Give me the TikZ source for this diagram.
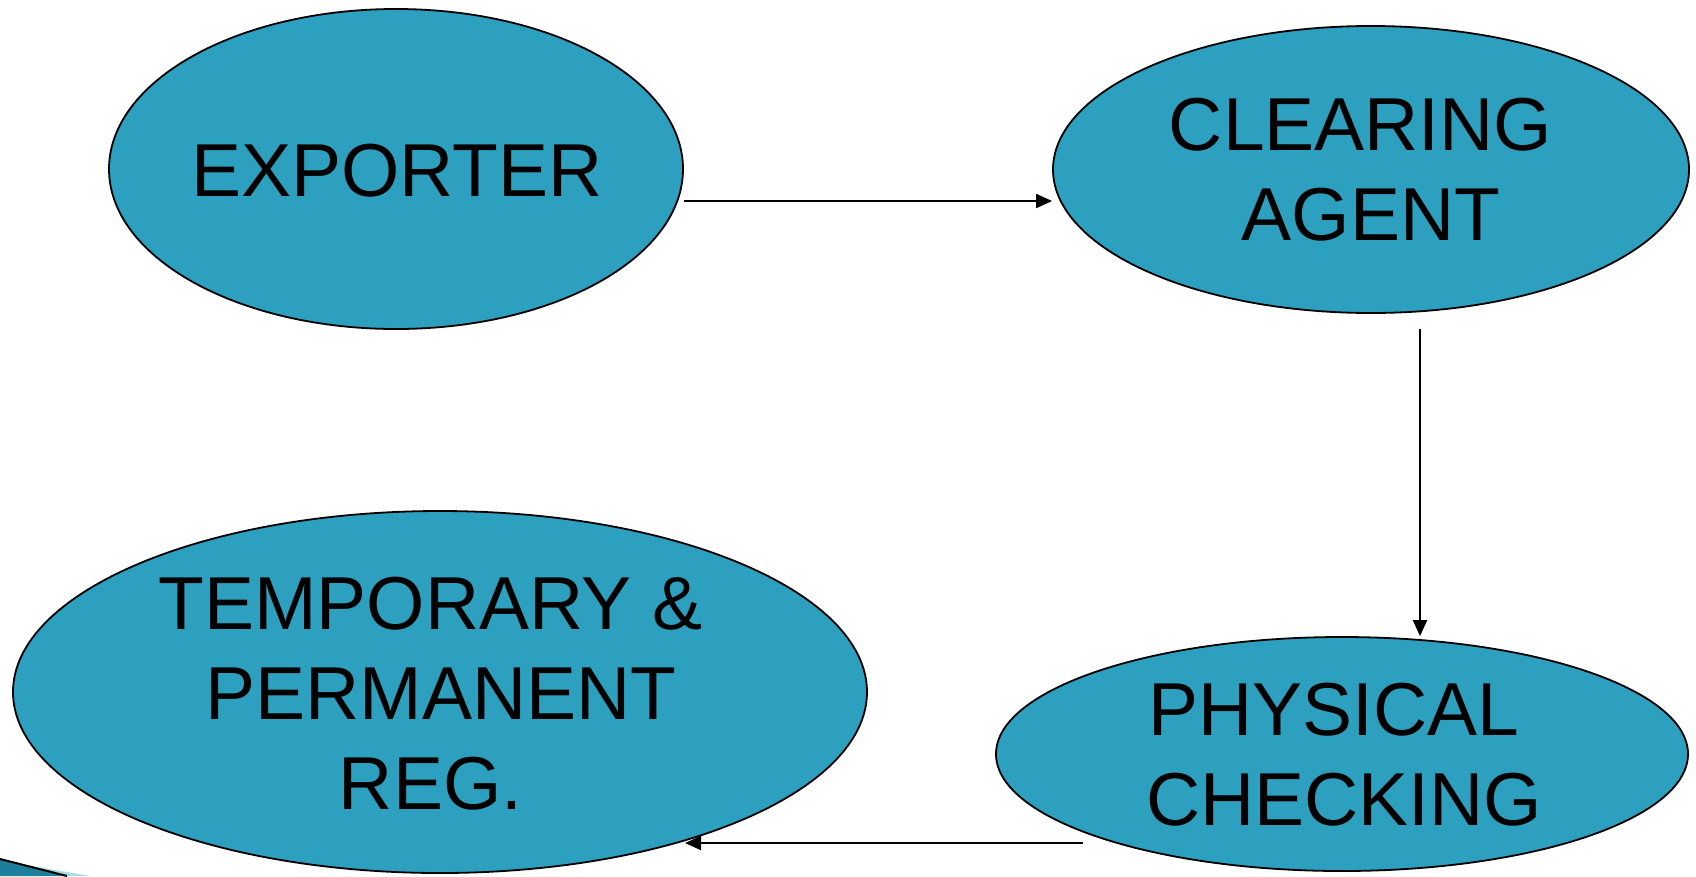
\documentclass[tikz,border=0pt]{standalone}
\usepackage{fontspec}
\setmainfont{Liberation Sans}
\usetikzlibrary{shapes.geometric,arrows.meta}
\definecolor{tealfill}{HTML}{2CA0BE}
\definecolor{tealdark}{HTML}{1E7F9C}
\tikzset{
  oval/.style={ellipse, draw=black, line width=1.8pt, fill=tealfill, inner sep=0pt},
  lbl/.style={align=center, inner sep=0pt, font=\fontsize{75}{90}\selectfont, text=black},
  arr/.style={line width=2pt, -{Triangle[length=16pt,width=14pt]}}
}
\newcommand{\tsp}{\hspace*{0.278em}}
\begin{document}
\begin{tikzpicture}[x=1pt,y=-1pt]
\useasboundingbox (0,0) rectangle (1696,876);
% corner decoration
\fill[tealdark] (0,859) -- (67,876) -- (0,876) -- cycle;
\fill[tealfill!40] (20,864) -- (90,876) -- (67,876) -- cycle;
\draw[line width=2pt] (0,859) -- (67,876);
% ellipses
\node[oval, minimum width=574pt, minimum height=320pt] (ex) at (396,169) {};
\node[lbl] (ext) at (397,171) {EXPORTER};
\node[oval, minimum width=636pt, minimum height=287pt] (ca) at (1371,169.5) {};
\node[lbl] (cat) at (1371,170) {CLEARING\tsp\\AGENT};
\node[oval, minimum width=854pt, minimum height=362pt] (tp) at (440,692) {};
\node[lbl] (tpt) at (441,694) {TEMPORARY \&\tsp\\PERMANENT\\REG.\tsp};
\node[oval, minimum width=692pt, minimum height=234pt] (pc) at (1342,754) {};
\node[lbl] (pct) at (1344,755) {PHYSICAL\tsp\\CHECKING};
% connectors
\coordinate (a1s) at (684,201);
\coordinate (a2s) at (1420,329);
\coordinate (a3s) at (1083,843);
\coordinate (a3e) at (685,843);
\draw[arr] (a1s) -- (ca.west |- a1s);
\draw[arr] (a2s) -- (a2s |- pc.north);
\draw[arr] (a3s) -- (a3e);
\end{tikzpicture}
\end{document}
